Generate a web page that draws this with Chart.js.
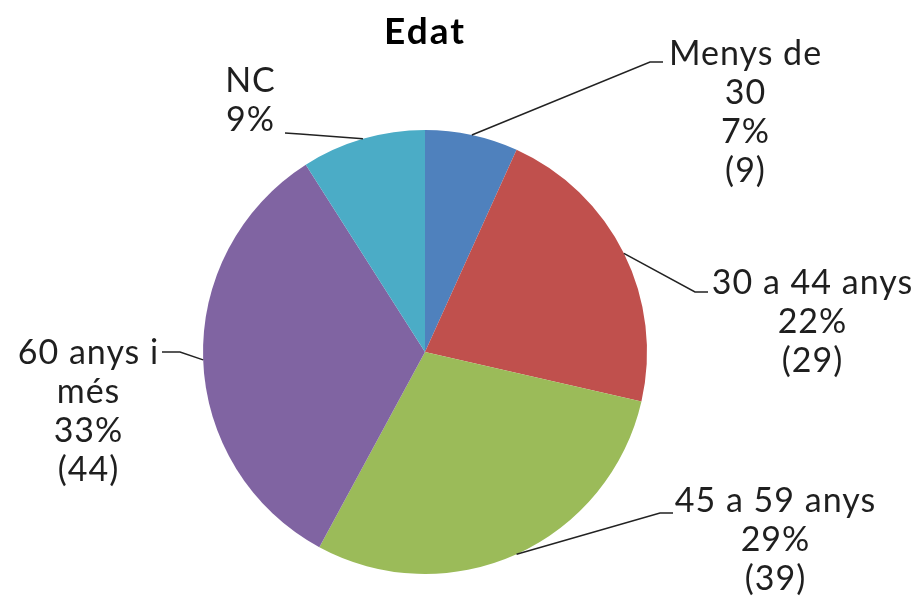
<!DOCTYPE html>
<html>
<head>
<meta charset="utf-8">
<script src="https://cdn.jsdelivr.net/npm/chart.js@4.4.0/dist/chart.umd.min.js"></script>
<style>
html,body{margin:0;padding:0;background:#fff;}
#wrap{width:920px;height:601px;position:relative;}
</style>
</head>
<body>
<div id="wrap"><canvas id="c" width="920" height="601"></canvas></div>
<script>
const categories = ["Menys de 30", "30 a 44 anys", "45 a 59 anys", "60 anys i més", "NC"];
const labelLines = [["Menys de", "30"], ["30 a 44 anys"], ["45 a 59 anys"], ["60 anys i", "més"], ["NC"]];
const counts = [9, 29, 39, 44, 12];
const percents = ["7%", "22%", "29%", "33%", "9%"];
const showCount = [true, true, true, true, false];
const colors = ["#4F81BD", "#C0504D", "#9BBB59", "#8064A2", "#4BACC6"];

// label placement: elbow point, end of leader, text center x, first line center y
const labelLayout = [
  {elbow:[650,62], end:[663,62], tx:745, ty:54},
  {elbow:[695,292], end:[708,292], tx:812, ty:283},
  {elbow:[660,513], end:[673,513], tx:775, ty:501},
  {elbow:[180,352], end:[162,352], tx:88, ty:353},
  {elbow:[300,134], end:[285,133], tx:250, ty:81}
];

const FONT = "34px 'Lato', 'Open Sans', sans-serif";
const LINE_H = 39;

const spacingPlugin = {
  id: 'spacing',
  beforeDraw(chart) { chart.ctx.letterSpacing = '2px'; }
};

const labelPlugin = {
  id: 'outLabels',
  afterDatasetsDraw(chart) {
    const ctx = chart.ctx;
    const meta = chart.getDatasetMeta(0);
    meta.data.forEach((arc, i) => {
      const p = arc.getProps(['x','y','startAngle','endAngle','outerRadius'], true);
      const mid = (p.startAngle + p.endAngle) / 2;
      const sx = p.x + Math.cos(mid) * p.outerRadius;
      const sy = p.y + Math.sin(mid) * p.outerRadius;
      const L = labelLayout[i];
      ctx.save();
      ctx.strokeStyle = '#222';
      ctx.lineWidth = 1.5;
      ctx.beginPath();
      ctx.moveTo(sx, sy);
      ctx.lineTo(L.elbow[0], L.elbow[1]);
      ctx.lineTo(L.end[0], L.end[1]);
      ctx.stroke();
      const lines = labelLines[i].concat([percents[i]]);
      if (showCount[i]) lines.push('(' + counts[i] + ')');
      ctx.fillStyle = '#1f1f1f';
      ctx.font = FONT;
      ctx.letterSpacing = '1px';
      ctx.textAlign = 'center';
      ctx.textBaseline = 'middle';
      lines.forEach((t, k) => ctx.fillText(t, L.tx + 0.5, L.ty + k * LINE_H));
      ctx.restore();
    });
  }
};

new Chart(document.getElementById('c'), {
  type: 'pie',
  data: {
    labels: categories,
    datasets: [{
      data: counts,
      backgroundColor: colors,
      borderWidth: 0
    }]
  },
  options: {
    responsive: false,
    animation: false,
    layout: { padding: { top: 0, bottom: 27, left: 203, right: 273 } },
    plugins: {
      legend: { display: false },
      tooltip: { enabled: false },
      title: {
        display: true,
        text: 'Edat',
        color: '#000',
        font: { family: "'Lato', 'Open Sans', sans-serif", size: 37, weight: 'bold', lineHeight: 1.2 },
        padding: { top: 10, bottom: 75.6 }
      }
    }
  },
  plugins: [spacingPlugin, labelPlugin]
});
</script>
</body>
</html>
